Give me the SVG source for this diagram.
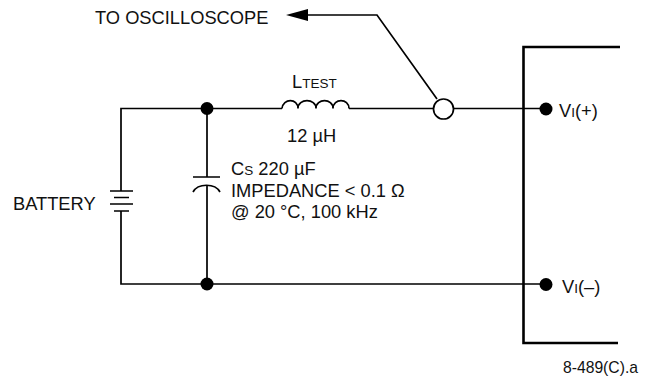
<svg xmlns="http://www.w3.org/2000/svg" width="652" height="377" viewBox="0 0 652 377">
<style>
text{font-family:"Liberation Sans",Arial,sans-serif;font-size:18.300px;fill:#111}
.s{font-size:13.500px}
.w{fill:none;stroke:#000;stroke-width:1.700}
.b{fill:none;stroke:#000;stroke-width:2.600}
.d{fill:#000}
</style>
<rect width="652" height="377" fill="#fff"/>
<g id="connectors">
<path class="w" d="M282 108.500H121V191M121 211V284H540M207 108.500V177M207 186V284"/>
<path class="w" d="M349 108.500H433.500M453.500 108.500H540"/>
<path class="w" d="M437 99L377 15H308"/>
<path d="M286 15L308 9V21Z" class="d"/>
</g>
<g id="inductor"><path class="w" d="M282 108.500C283 98 298 98 298 108.500C298 98 316 98 316 108.500C316 98 333 98 333 108.500C333 98 349 98 349 108.500"/>
<text x="292" y="88">L<tspan class="s">TEST</tspan></text><text x="287" y="142">12 µH</text></g>
<g id="probe"><circle class="w" cx="443.500" cy="109" r="10"/></g>
<g id="battery"><path class="w" d="M110 191H133M114 197.500H129M110 204H133M114 211H129"/><text x="13" y="210">BATTERY</text></g>
<g id="capacitor"><path class="w" d="M193 177H220M193 192C198 183 215 183 220 192"/>
<text x="231" y="175">C<tspan class="s">S</tspan> 220 µF</text><text x="231" y="197">IMPEDANCE &lt; 0.1 Ω</text><text x="231" y="218">@ 20 °C, 100 kHz</text></g>
<g id="j1"><circle class="d" cx="207" cy="108.500" r="6.500"/></g>
<g id="j2"><circle class="d" cx="207" cy="284" r="6.500"/></g>
<g id="module"><path class="b" d="M620 47H523.500V343H618"/></g>
<g id="vplus"><circle class="d" cx="546" cy="109" r="6.500"/><text x="559" y="117">V<tspan class="s">I</tspan>(+)</text></g>
<g id="vminus"><circle class="d" cx="546" cy="284.500" r="6.500"/><text x="562" y="293">V<tspan class="s">I</tspan>(–)</text></g>
<g id="scope-label"><text x="95" y="24">TO OSCILLOSCOPE</text></g>
<g id="ref"><text x="563" y="373" style="font-size:15.700px">8-489(C).a</text></g>
</svg>
